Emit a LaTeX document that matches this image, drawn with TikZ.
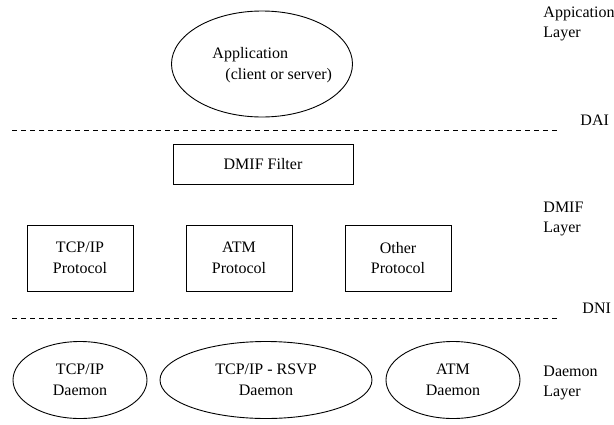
\documentclass[tikz,border=0pt]{standalone}
\usepackage{fontspec}
\setmainfont{Liberation Serif}
\usetikzlibrary{shapes.geometric}
\begin{document}
\begin{tikzpicture}[x=1pt,y=-1pt,
  font=\fontsize{16}{20.5}\selectfont, line width=0.9pt,
  box/.style={draw, rectangle, inner sep=0pt, align=center},
  oval/.style={draw, ellipse, inner sep=0pt, align=center},
  lbl/.style={anchor=west, align=left, inner sep=0pt},
  sepline/.style={dash pattern=on 5pt off 4pt, line width=0.8pt}]
\useasboundingbox (0,0) rectangle (614,424);
% application
\node[oval, minimum width=181pt, minimum height=106pt] (app) at (262,64) {};
\node[lbl] (apptxt) at (212,65) {Application\\\hspace*{13pt}(client or server)};
% separators
\coordinate (dai1) at (12,130);
\coordinate (dai2) at (557,130);
\draw[sepline] (dai1) -- (dai2);
\coordinate (dni1) at (12,318);
\coordinate (dni2) at (557,318);
\draw[sepline] (dni1) -- (dni2);
% DMIF filter and protocols
\node[box, minimum width=180pt, minimum height=40pt] (filter) at (263,164) {DMIF Filter};
\node[box, minimum width=106pt, minimum height=66pt] (tcp) at (80,258) {TCP/IP\\Protocol};
\node[box, minimum width=106pt, minimum height=66pt] (atm) at (239,258) {ATM\\Protocol};
\node[box, minimum width=106pt, minimum height=66pt] (other) at (398,258) {Other\\Protocol};
% daemons
\node[oval, minimum width=134pt, minimum height=77pt] (tcpd) at (80,380) {TCP/IP\\Daemon};
\node[oval, minimum width=212pt, minimum height=77pt] (rsvpd) at (266,380) {TCP/IP - RSVP\\Daemon};
\node[oval, minimum width=134pt, minimum height=77pt] (atmd) at (453,380) {ATM\\Daemon};
% layer labels
\node[lbl] (applayer) at (543,24) {Appication\\Layer};
\node[lbl] (dai) at (580,120) {DAI};
\node[lbl] (dmiflayer) at (543,219) {DMIF\\Layer};
\node[lbl] (dni) at (582,308) {DNI};
\node[lbl] (daemonlayer) at (543,383) {Daemon\\Layer};
\end{tikzpicture}
\end{document}
